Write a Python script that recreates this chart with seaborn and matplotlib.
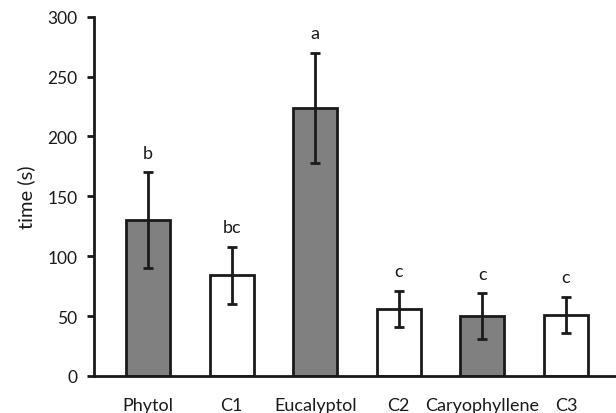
import matplotlib
matplotlib.use("Agg")
import matplotlib.pyplot as plt
import seaborn as sns
import pandas as pd

categories = ["Phytol", "C1", "Eucalyptol", "C2", "Caryophyllene", "C3"]
means = [130, 84, 224, 56, 50, 51]
errors = [40, 24, 46, 15, 19, 15]
letters = ["b", "bc", "a", "c", "c", "c"]
bar_colors = ["#808080", "#ffffff", "#808080", "#ffffff", "#808080", "#ffffff"]
yticks = [0, 50, 100, 150, 200, 250, 300]

sns.set_theme(style="white")
plt.rcParams["font.family"] = ["Lato", "DejaVu Sans"]

df = pd.DataFrame({"cat": categories, "time": means})

fig = plt.figure(figsize=(6.16, 4.14), dpi=100)
ax = fig.add_axes([0.1526, 0.0894, 0.8474, 0.868])

sns.barplot(data=df, x="cat", y="time", hue="cat", palette=bar_colors,
            legend=False, width=0.526, edgecolor="#1a1a1a", linewidth=2.0,
            ax=ax, saturation=1)
xs = list(range(len(categories)))
ax.errorbar(xs, means, yerr=errors, fmt="none", ecolor="#1a1a1a",
            elinewidth=2.0, capsize=3.6, capthick=2.0, zorder=5)
for x, m, e, lab in zip(xs, means, errors, letters):
    ax.annotate(lab, (x, m + e), xytext=(0, 10.5), textcoords="offset points",
                ha="center", va="baseline", fontsize=13, color="#1a1a1a")

ax.set_xlim(-0.646, 5.598)
ax.set_ylim(0, 300)
ax.set_yticks(yticks)
ax.set_xlabel("")
ax.set_ylabel("time (s)", fontsize=14.5, color="#1a1a1a", labelpad=9)
for s in ["top", "right"]:
    ax.spines[s].set_visible(False)
for s in ["left", "bottom"]:
    ax.spines[s].set_linewidth(2.0)
    ax.spines[s].set_color("#1a1a1a")
ax.tick_params(axis="y", which="both", left=True, length=5, width=2.0,
               color="#1a1a1a", labelsize=12.5, labelcolor="#1a1a1a", pad=7)
ax.tick_params(axis="x", bottom=False, labelsize=13, labelcolor="#1a1a1a", pad=9)

fig.savefig("out.png", dpi=100)
